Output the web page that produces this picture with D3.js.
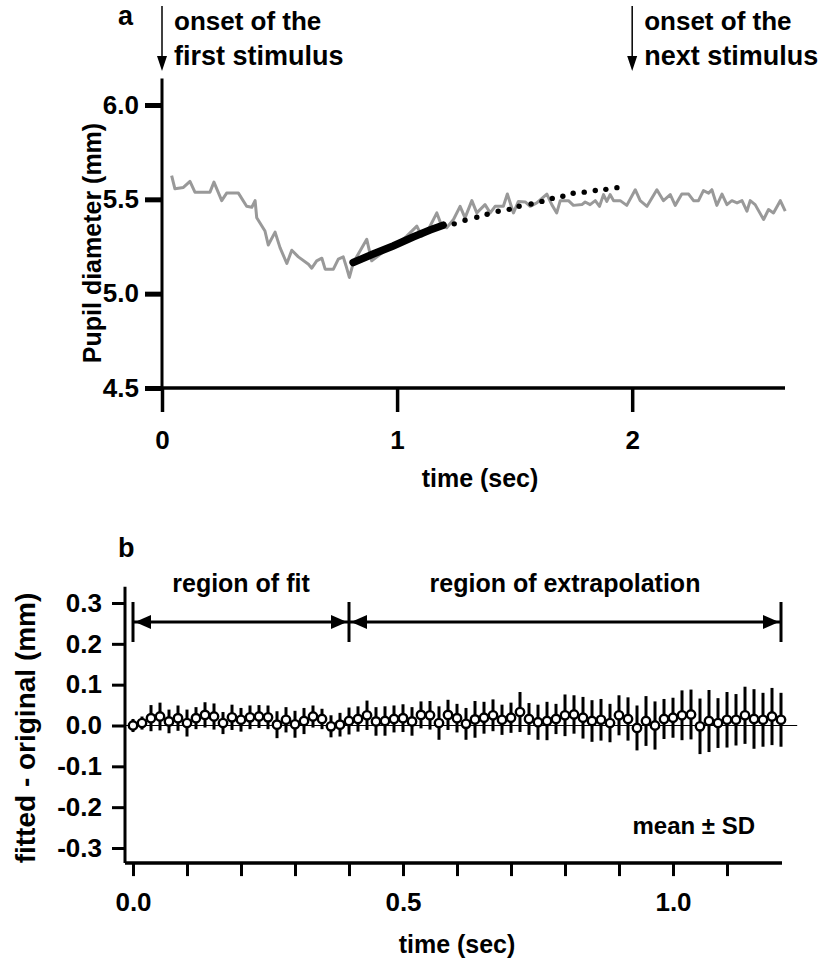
<!DOCTYPE html>
<html>
<head>
<meta charset="utf-8">
<script src="https://cdn.jsdelivr.net/npm/d3@7/dist/d3.min.js"></script>
<style>
  html, body { margin: 0; padding: 0; background: #fff; }
  svg { display: block; font-family: "Liberation Sans", Arial, sans-serif; font-weight: bold; }
</style>
</head>
<body>
<svg id="chart" width="830" height="962"></svg>
<script>
'use strict';

/* ── Panel a: pupil trace (sec, mm) ── */
const traceTime = [0.041,0.055,0.091,0.119,0.140,0.204,0.221,0.254,0.275,0.325,
  0.360,0.382,0.396,0.403,0.438,0.452,0.481,0.502,0.531,0.552,
  0.580,0.623,0.637,0.658,0.680,0.694,0.729,0.750,0.771,0.783,
  0.797,0.814,0.871,0.892,0.928,0.956,0.984,1.041,1.084,1.105,
  1.126,1.169,1.190,1.211,1.240,1.268,1.289,1.318,1.339,1.374,
  1.396,1.417,1.452,1.469,1.495,1.516,1.545,1.566,1.594,1.637,
  1.658,1.679,1.694,1.729,1.750,1.786,1.800,1.821,1.843,1.861,
  1.878,1.892,1.906,1.921,1.949,1.977,2.013,2.034,2.063,2.105,
  2.133,2.162,2.183,2.211,2.240,2.261,2.282,2.303,2.325,2.339,
  2.360,2.382,2.403,2.424,2.446,2.467,2.488,2.502,2.523,2.559,
  2.580,2.601,2.630,2.651];
const traceDiam = [5.626,5.556,5.563,5.595,5.538,5.538,5.591,5.493,5.533,5.533,
  5.463,5.458,5.493,5.402,5.332,5.258,5.326,5.244,5.160,5.230,
  5.195,5.156,5.135,5.174,5.188,5.130,5.130,5.183,5.195,5.147,
  5.086,5.165,5.288,5.174,5.209,5.235,5.244,5.305,5.358,5.305,
  5.323,5.428,5.358,5.349,5.393,5.463,5.402,5.493,5.428,5.472,
  5.428,5.463,5.463,5.528,5.428,5.489,5.486,5.463,5.481,5.528,
  5.472,5.428,5.493,5.493,5.468,5.472,5.486,5.472,5.493,5.463,
  5.525,5.489,5.525,5.493,5.493,5.468,5.551,5.493,5.463,5.551,
  5.493,5.525,5.468,5.528,5.528,5.493,5.493,5.546,5.533,5.551,
  5.468,5.528,5.472,5.493,5.481,5.493,5.437,5.493,5.472,5.393,
  5.446,5.428,5.493,5.437];

/* fitted curve inside the fit window, and its extrapolated dots */
const fitTime = [0.813, 0.898, 0.983, 1.068, 1.140, 1.196];
const fitDiam = [5.165, 5.210, 5.253, 5.300, 5.337, 5.363];
const extrapTime = [1.243,1.289,1.339,1.383,1.430,1.477,1.519,1.570,1.616,1.660,1.705,1.749,1.796,1.843,1.888,1.935];
const extrapDiam = [5.370,5.389,5.405,5.421,5.437,5.447,5.463,5.475,5.489,5.505,5.516,5.532,5.538,5.547,5.553,5.562];

const aYTicks = [4.5, 5.0, 5.5, 6.0];
const aXTicks = [0, 1, 2];
const onsets = [0, 2];

/* ── Panel b: fitted - original, mean and SD per sample (60 Hz) ── */
const sampleRate = 60;
const residMean = [0.000,0.006,0.018,0.022,0.010,0.018,0.006,0.018,0.026,0.022,
  0.006,0.020,0.014,0.020,0.022,0.020,0.002,0.014,0.003,0.011,
  0.022,0.016,-0.002,0.002,0.011,0.016,0.025,0.010,0.011,0.016,
  0.018,0.010,0.026,0.025,0.006,0.026,0.018,0.004,0.015,0.019,
  0.025,0.014,0.019,0.033,0.016,0.008,0.011,0.016,0.025,0.027,
  0.019,0.011,0.014,0.006,0.025,0.016,-0.006,0.011,0.000,0.016,
  0.019,0.025,0.027,-0.002,0.011,0.006,0.014,0.014,0.025,0.016,
  0.014,0.022,0.014];
const residSD = [0.016,0.016,0.032,0.034,0.029,0.031,0.033,0.027,0.031,0.032,
  0.027,0.031,0.029,0.029,0.028,0.029,0.033,0.031,0.033,0.032,
  0.027,0.025,0.027,0.029,0.033,0.031,0.036,0.035,0.036,0.033,
  0.034,0.035,0.033,0.035,0.041,0.037,0.035,0.039,0.045,0.039,
  0.039,0.037,0.037,0.049,0.039,0.043,0.047,0.037,0.051,0.047,
  0.051,0.051,0.051,0.047,0.049,0.053,0.055,0.061,0.059,0.049,
  0.049,0.061,0.061,0.068,0.076,0.061,0.068,0.063,0.070,0.073,
  0.066,0.070,0.066];

const bYTicks = [-0.3, -0.2, -0.1, 0.0, 0.1, 0.2, 0.3];
const bXTicks = [0, 0.1, 0.2, 0.3, 0.4, 0.5, 0.6, 0.7, 0.8, 0.9, 1.0, 1.1];
const bXLabels = [0, 0.5, 1.0];
const regionEdges = [0, 0.4, 1.2];
const regionNames = ['region of fit', 'region of extrapolation'];

/* ── Setup ── */
const svg = d3.select('#chart');
const FONT = 25;

function arrowHead(g, x, y, dir) {
  // dir: +1 points right, -1 points left; tip at (x, y)
  const L = 16, H = 7;
  g.append('path')
    .attr('d', `M${x},${y} L${x - dir * L},${y - H} L${x - dir * L},${y + H} Z`)
    .attr('fill', '#000');
}

/* ============ Panel a ============ */
const xA = d3.scaleLinear().domain([0, 2.65]).range([162, 785]);
const yA = d3.scaleLinear().domain([4.5, 6.0]).range([388, 105]);
const ga = svg.append('g');

// y axis
const yAxA = ga.append('g').attr('transform', `translate(${xA(0)},0)`)
  .call(d3.axisLeft(yA).tickValues(aYTicks).tickSize(17).tickPadding(6)
    .tickFormat(d => d.toFixed(1)));
yAxA.select('.domain').remove();
yAxA.selectAll('line').attr('stroke-width', 5);
yAxA.selectAll('text').attr('font-size', 26).attr('font-family', null);
ga.append('line')
  .attr('x1', xA(0)).attr('x2', xA(0))
  .attr('y1', yA(6.14)).attr('y2', yA(4.5))
  .attr('stroke', '#000').attr('stroke-width', 3);

// x axis
const xAxA = ga.append('g').attr('transform', `translate(0,${yA(4.5)})`)
  .call(d3.axisBottom(xA).tickValues(aXTicks).tickSize(24).tickPadding(19)
    .tickFormat(d3.format('d')));
xAxA.select('.domain').remove();
xAxA.selectAll('line').attr('stroke-width', 3.5);
xAxA.selectAll('text').attr('font-size', 26).attr('font-family', null);
ga.append('line')
  .attr('x1', xA(0)).attr('x2', xA(2.65))
  .attr('y1', yA(4.5)).attr('y2', yA(4.5))
  .attr('stroke', '#000').attr('stroke-width', 3.5);

// titles
ga.append('text').attr('x', 480).attr('y', 487).attr('text-anchor', 'middle')
  .attr('font-size', FONT).text('time (sec)');
ga.append('text').attr('transform', 'translate(101,243) rotate(-90)')
  .attr('text-anchor', 'middle').attr('font-size', FONT).text('Pupil diameter (mm)');
ga.append('text').attr('x', 118).attr('y', 25).attr('font-size', 27).text('a');

// onset markers
const onsetText = [['onset of the', 'first stimulus'], ['onset of the', 'next stimulus']];
onsets.forEach((t, i) => {
  const x = xA(t);
  ga.append('line').attr('x1', x).attr('x2', x).attr('y1', 6).attr('y2', 58)
    .attr('stroke', '#000').attr('stroke-width', 1.5);
  ga.append('path').attr('d', `M${x - 5},56 L${x + 5},56 L${x},71 Z`).attr('fill', '#000');
  const tx = x + 12;
  ga.append('text').attr('x', tx).attr('y', 30).attr('font-size', 26).text(onsetText[i][0]);
  ga.append('text').attr('x', tx).attr('y', 65).attr('font-size', 27).text(onsetText[i][1]);
});

// raw trace
const traceLine = d3.line().x(d => xA(d[0])).y(d => yA(d[1]));
ga.append('path')
  .datum(d3.zip(traceTime, traceDiam))
  .attr('d', traceLine)
  .attr('fill', 'none').attr('stroke', '#999').attr('stroke-width', 3)
  .attr('stroke-linejoin', 'round');

// fit (dense dots merge into a thick line)
ga.append('path')
  .datum(d3.zip(fitTime, fitDiam))
  .attr('d', traceLine)
  .attr('fill', 'none').attr('stroke', '#000').attr('stroke-width', 7.5)
  .attr('stroke-linecap', 'round');

// extrapolated dots
ga.append('g').selectAll('circle')
  .data(d3.zip(extrapTime, extrapDiam))
  .join('circle')
  .attr('cx', d => xA(d[0])).attr('cy', d => yA(d[1])).attr('r', 2.7)
  .attr('fill', '#000');

/* ============ Panel b ============ */
const xB = d3.scaleLinear().domain([0, 1.2]).range([133, 781]);
const yB = d3.scaleLinear().domain([-0.3, 0.3]).range([848, 603]);
const gb = svg.append('g');

const yAxB = gb.append('g').attr('transform', 'translate(125,0)')
  .call(d3.axisLeft(yB).tickValues(bYTicks).tickSize(13).tickPadding(10)
    .tickFormat(d => d.toFixed(1)));
yAxB.select('.domain').remove();
yAxB.selectAll('line').attr('stroke-width', 3);
yAxB.selectAll('text').attr('font-size', 26).attr('font-family', null);
gb.append('line').attr('x1', 125).attr('x2', 125)
  .attr('y1', yB(0.34)).attr('y2', yB(-0.337))
  .attr('stroke', '#000').attr('stroke-width', 3);

const xAxB = gb.append('g').attr('transform', `translate(0,${yB(-0.337)})`)
  .call(d3.axisBottom(xB).tickValues(bXTicks).tickSize(13).tickPadding(16)
    .tickFormat(d => bXLabels.includes(d) ? d.toFixed(1) : ''));
xAxB.select('.domain').remove();
xAxB.selectAll('line').attr('stroke-width', 3);
xAxB.selectAll('text').attr('font-size', 26).attr('font-family', null);
gb.append('line').attr('x1', 125).attr('x2', xB(1.2) + 1)
  .attr('y1', yB(-0.337)).attr('y2', yB(-0.337))
  .attr('stroke', '#000').attr('stroke-width', 3.5);

gb.append('text').attr('x', 457).attr('y', 953).attr('text-anchor', 'middle')
  .attr('font-size', FONT).text('time (sec)');
gb.append('text').attr('transform', 'translate(35,728) rotate(-90)')
  .attr('text-anchor', 'middle').attr('font-size', 28).text('fitted - original (mm)');
gb.append('text').attr('x', 118).attr('y', 557).attr('font-size', 27).text('b');

// zero reference
gb.append('line').attr('x1', 125).attr('x2', xB(1.23))
  .attr('y1', yB(0)).attr('y2', yB(0))
  .attr('stroke', '#000').attr('stroke-width', 1.2);

// region annotation
const arrowY = 622;
gb.append('line').attr('x1', xB(regionEdges[0])).attr('x2', xB(regionEdges[2]))
  .attr('y1', arrowY).attr('y2', arrowY).attr('stroke', '#000').attr('stroke-width', 3);
regionEdges.forEach(t => {
  gb.append('line').attr('x1', xB(t)).attr('x2', xB(t))
    .attr('y1', arrowY - 20).attr('y2', arrowY + 20)
    .attr('stroke', '#000').attr('stroke-width', 3);
});
for (let i = 0; i < 2; i++) {
  arrowHead(gb, xB(regionEdges[i]) + 2, arrowY, -1);
  arrowHead(gb, xB(regionEdges[i + 1]) - 2, arrowY, 1);
  gb.append('text')
    .attr('x', (xB(regionEdges[i]) + xB(regionEdges[i + 1])) / 2).attr('y', 592)
    .attr('text-anchor', 'middle').attr('font-size', FONT).text(regionNames[i]);
}

// mean ± SD
const pts = residMean.map((m, i) => ({ t: i / sampleRate, m, sd: residSD[i] }));
gb.append('g').selectAll('line')
  .data(pts).join('line')
  .attr('x1', d => xB(d.t)).attr('x2', d => xB(d.t))
  .attr('y1', d => yB(d.m + d.sd)).attr('y2', d => yB(d.m - d.sd))
  .attr('stroke', '#000').attr('stroke-width', 3);
gb.append('g').selectAll('circle')
  .data(pts).join('circle')
  .attr('cx', d => xB(d.t)).attr('cy', d => yB(d.m)).attr('r', 4.2)
  .attr('fill', '#fff').attr('stroke', '#000').attr('stroke-width', 2.4);

gb.append('text').attr('x', 755).attr('y', 834).attr('text-anchor', 'end')
  .attr('font-size', 24).text('mean ± SD');
</script>
</body>
</html>
